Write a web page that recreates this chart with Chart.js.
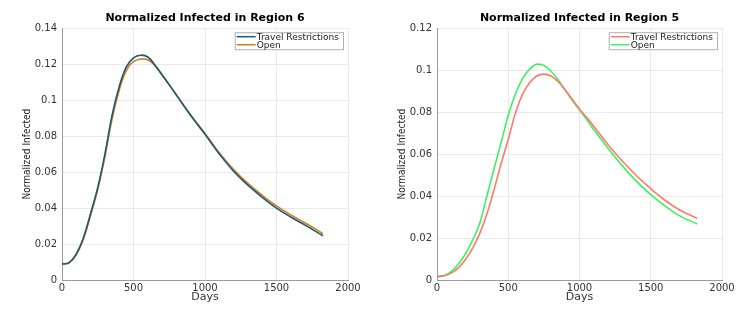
<!DOCTYPE html>
<html>
<head>
<meta charset="utf-8">
<script src="https://cdn.jsdelivr.net/npm/chart.js@4.4.0/dist/chart.umd.min.js"></script>
<style>
  body { margin: 0; background: #fff; }
  #wrap { display: flex; width: 749px; height: 310px; }
  canvas { display: block; }
</style>
</head>
<body>
<div id="wrap">
  <canvas id="left" width="375" height="310"></canvas>
  <canvas id="right" width="374" height="310"></canvas>
</div>
<script>
// days on the x axis
const days = [0, 50, 100, 150, 200, 250, 300, 350, 400, 450, 500, 550, 600, 650, 700, 750, 800,
  850, 900, 950, 1000, 1050, 1100, 1200, 1300, 1400, 1500, 1600, 1700, 1825];

// region 6
const r6Travel = [0.0089, 0.0097, 0.0145, 0.0235, 0.0370, 0.0515, 0.0700, 0.0915, 0.1075, 0.1185, 0.1235,
  0.1250, 0.1240, 0.1195, 0.1140, 0.1085, 0.1028, 0.0970, 0.0915, 0.0862, 0.0810, 0.0755, 0.0700,
  0.0605, 0.0527, 0.0460, 0.0400, 0.0350, 0.0305, 0.0246];
const r6Open = [0.0089, 0.0095, 0.0140, 0.0228, 0.0360, 0.0503, 0.0685, 0.0895, 0.1055, 0.1165, 0.1215,
  0.1228, 0.1225, 0.1192, 0.1140, 0.1085, 0.1030, 0.0973, 0.0918, 0.0866, 0.0815, 0.0760, 0.0707,
  0.0614, 0.0537, 0.0471, 0.0412, 0.0362, 0.0317, 0.0258];

// region 5
const r5Travel = [0.0016, 0.0020, 0.0033, 0.0058, 0.0098, 0.0152, 0.0222, 0.0315, 0.0430, 0.0555, 0.0670,
  0.0795, 0.0885, 0.0940, 0.0972, 0.0981, 0.0972, 0.0945, 0.0905, 0.0860, 0.0815, 0.0775, 0.0733,
  0.0645, 0.0567, 0.0497, 0.0435, 0.0380, 0.0335, 0.0294];
const r5Open = [0.0016, 0.0021, 0.0040, 0.0075, 0.0125, 0.0190, 0.0270, 0.0400, 0.0530, 0.0655, 0.0785,
  0.0885, 0.0960, 0.1005, 0.1028, 0.1022, 0.0995, 0.0955, 0.0905, 0.0855, 0.0810, 0.0765, 0.0717,
  0.0628, 0.0545, 0.0470, 0.0407, 0.0353, 0.0307, 0.0267];

const seriesNames = ['Travel Restrictions', 'Open'];

function pts(vals) {
  return vals.map((v, i) => ({x: days[i], y: v}));
}

// small legend box inside the plot, top right
const boxLegend = {
  id: 'boxLegend',
  afterDraw(chart) {
    const ctx = chart.ctx, area = chart.chartArea;
    const ds = chart.data.datasets;
    ctx.save();
    ctx.font = '9px "DejaVu Sans"';
    let tw = 0;
    ds.forEach(d => { tw = Math.max(tw, ctx.measureText(d.label).width); });
    const lineLen = 19, rowH = 8;
    const w = lineLen + 3 + tw + 4, h = ds.length * rowH + 1;
    const x0 = area.right - 5 - w, y0 = area.top + 4;
    ctx.fillStyle = '#fff';
    ctx.fillRect(x0, y0, w, h);
    ctx.strokeStyle = '#b0b0b0';
    ctx.lineWidth = 1;
    ctx.strokeRect(x0 + 0.5, y0 + 0.5, w, h);
    ds.forEach((d, i) => {
      const yy = y0 + 4.5 + i * rowH;
      ctx.strokeStyle = d.borderColor;
      ctx.lineWidth = 1.5;
      ctx.beginPath();
      ctx.moveTo(x0 + 2, yy);
      ctx.lineTo(x0 + 2 + lineLen, yy);
      ctx.stroke();
      ctx.fillStyle = '#222';
      ctx.textBaseline = 'middle';
      ctx.fillText(d.label, x0 + lineLen + 3, yy + 0.5);
    });
    ctx.restore();
  }
};

function makeChart(id, title, yMax, travel, open, colors) {
  return new Chart(document.getElementById(id), {
    type: 'line',
    data: {
      datasets: [
        {label: seriesNames[0], data: pts(travel), borderColor: colors[0], borderWidth: 1.6},
        {label: seriesNames[1], data: pts(open), borderColor: colors[1], borderWidth: 1.6}
      ]
    },
    options: {
      responsive: false,
      animation: false,
      parsing: false,
      elements: { point: { radius: 0 }, line: { tension: 0.4 } },
      layout: { padding: { left: 0, right: 27, top: 0, bottom: 0 } },
      plugins: {
        legend: { display: false },
        tooltip: { enabled: false },
        title: {
          display: true, text: title, color: '#000', fullSize: false,
          font: { family: 'DejaVu Sans', size: 11, weight: 'bold' },
          padding: { top: 12, bottom: 3 }
        }
      },
      scales: {
        x: {
          type: 'linear', min: 0, max: 2000,
          ticks: { stepSize: 500, color: '#333', padding: 2, maxRotation: 0,
            font: { family: 'DejaVu Sans', size: 10 }, callback: v => String(v) },
          grid: { color: '#e9e9e9', drawTicks: false },
          border: { color: '#9c9c9c' },
          title: { display: true, text: 'Days', color: '#333',
            font: { family: 'DejaVu Sans', size: 11 }, padding: { top: 0, bottom: 6 } },
          afterFit(s) { s.height = 30; }
        },
        y: {
          min: 0, max: yMax,
          ticks: { stepSize: 0.02, color: '#333', padding: 5,
            font: { family: 'DejaVu Sans', size: 10 },
            callback: v => String(+v.toFixed(2)) },
          grid: { color: '#e9e9e9', drawTicks: false },
          border: { color: '#9c9c9c' },
          title: { display: true, text: 'Normalized Infected', color: '#222',
            font: { family: "'DejaVu Sans Condensed', 'Liberation Sans Narrow', 'Liberation Sans', sans-serif", size: 10 },
            padding: { top: 21, bottom: 0 } },
          afterFit(s) { s.width = 62; }
        }
      }
    },
    plugins: [boxLegend]
  });
}

makeChart('left', 'Normalized Infected in Region 6', 0.14, r6Travel, r6Open, ['#1c5878', '#d47a1c']);
makeChart('right', 'Normalized Infected in Region 5', 0.12, r5Travel, r5Open, ['#ff7a66', '#3ff066']);
</script>
</body>
</html>
